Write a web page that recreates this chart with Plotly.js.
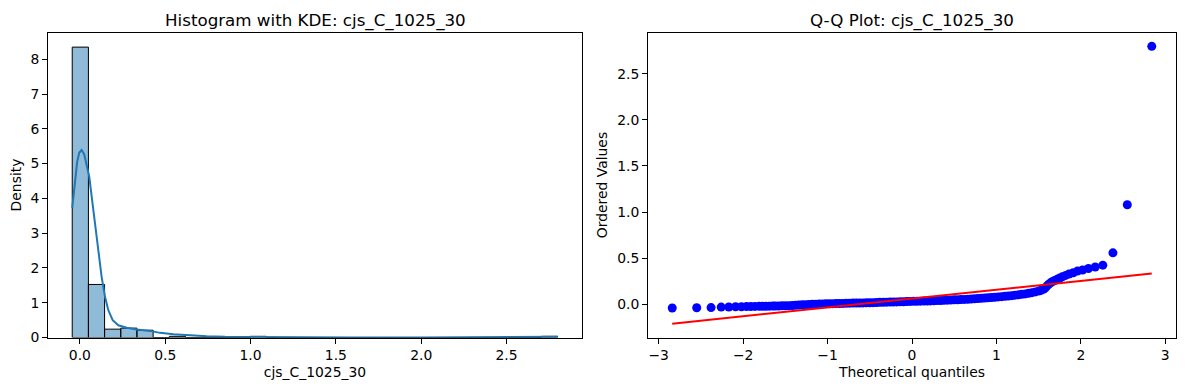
<!DOCTYPE html>
<html>
<head>
<meta charset="utf-8">
<script src="https://cdn.plot.ly/plotly-3.0.1.min.js"></script>
<style>
  html, body { margin: 0; padding: 0; background: #ffffff; }
  #chart { width: 1189px; height: 390px; }
</style>
</head>
<body>
<div id="chart"></div>
<script>
// ---------------- data ----------------
const variableName = "cjs_C_1025_30";

// Histogram (stat = density), 30 equal bins
const binStart = -0.045;
const binWidth = 0.0948;
const binDensity = [
  8.35, 1.525, 0.24, 0.27, 0.21, 0.0, 0.034, 0.0, 0.0, 0.0,
  0.0, 0.034, 0.0, 0.0, 0.0, 0.0, 0.0, 0.0, 0.0, 0.0,
  0.0, 0.0, 0.0, 0.0, 0.0, 0.0, 0.0, 0.0, 0.0, 0.034
];

// KDE curve
const kdeX = [-0.045, -0.029, -0.016, -0.004, 0.010, 0.025, 0.039, 0.055, 0.069, 0.084,
  0.098, 0.112, 0.127, 0.147, 0.166, 0.192, 0.225, 0.274, 0.333, 0.411,
  0.469, 0.548, 0.626, 0.743, 0.85, 0.94, 1.0, 1.07, 1.14, 1.22,
  1.35, 1.6, 2.0, 2.4, 2.6, 2.7, 2.76, 2.80];
const kdeY = [3.73, 4.48, 5.05, 5.31, 5.39, 5.27, 4.96, 4.62, 4.05, 3.47,
  2.90, 2.32, 1.75, 1.17, 0.79, 0.50, 0.35, 0.28, 0.23, 0.19,
  0.133, 0.095, 0.066, 0.037, 0.02, 0.016, 0.02, 0.024, 0.018, 0.006,
  0.001, 0.0, 0.0, 0.0, 0.002, 0.009, 0.016, 0.019];

// Q-Q plot points
const qqTheoretical = [
  -2.84, -2.55, -2.38, -2.26, -2.17, -2.09, -2.02, -1.96, -1.91, -1.86,
  -1.81, -1.77, -1.73, -1.69, -1.65, -1.62, -1.58, -1.54, -1.50, -1.46,
  -1.42, -1.38, -1.34, -1.30, -1.26, -1.22, -1.18, -1.14, -1.10, -1.06,
  -1.02, -0.98, -0.94, -0.90, -0.86, -0.82, -0.78, -0.74, -0.70, -0.66,
  -0.62, -0.58, -0.54, -0.50, -0.46, -0.42, -0.38, -0.34, -0.30, -0.26,
  -0.22, -0.18, -0.14, -0.10, -0.06, -0.02, 0.02, 0.06, 0.10, 0.14,
  0.18, 0.22, 0.26, 0.30, 0.34, 0.38, 0.42, 0.46, 0.50, 0.54,
  0.58, 0.62, 0.66, 0.70, 0.74, 0.78, 0.82, 0.86, 0.90, 0.94,
  0.98, 1.02, 1.06, 1.10, 1.14, 1.18, 1.22, 1.26, 1.30, 1.34,
  1.38, 1.42, 1.46, 1.50, 1.53, 1.56, 1.58, 1.60, 1.62, 1.64,
  1.66, 1.69, 1.72, 1.75, 1.78, 1.82, 1.86, 1.91, 1.96, 2.02,
  2.09, 2.17, 2.26, 2.38, 2.55, 2.84
];
const qqOrdered = [
  -0.040, -0.037, -0.036, -0.030, -0.029, -0.027, -0.026, -0.025, -0.024, -0.023,
  -0.022, -0.021, -0.021, -0.020, -0.019, -0.018, -0.018, -0.017, -0.016, -0.015,
  -0.013, -0.010, -0.008, -0.006, -0.004, -0.002, 0.000, 0.001, 0.002, 0.004,
  0.005, 0.006, 0.007, 0.008, 0.009, 0.010, 0.011, 0.012, 0.013, 0.013,
  0.014, 0.015, 0.016, 0.017, 0.018, 0.019, 0.021, 0.022, 0.023, 0.024,
  0.025, 0.026, 0.027, 0.028, 0.029, 0.031, 0.032, 0.033, 0.034, 0.035,
  0.036, 0.037, 0.038, 0.040, 0.041, 0.043, 0.045, 0.046, 0.048, 0.049,
  0.051, 0.053, 0.055, 0.057, 0.059, 0.062, 0.065, 0.068, 0.071, 0.074,
  0.077, 0.080, 0.083, 0.087, 0.090, 0.094, 0.098, 0.103, 0.108, 0.113,
  0.119, 0.126, 0.134, 0.143, 0.152, 0.165, 0.180, 0.200, 0.218, 0.232,
  0.245, 0.258, 0.272, 0.285, 0.298, 0.313, 0.328, 0.342, 0.360, 0.372,
  0.388, 0.405, 0.424, 0.558, 1.079, 2.797
];

// Least-squares fit line end points
const qqLineX = [-2.84, 2.84];
const qqLineY = [-0.210, 0.335];

// ---------------- build ----------------
const binCenters = binDensity.map((_, i) => binStart + binWidth * (i + 0.5));

const FONT = "DejaVu Sans, Liberation Sans, sans-serif";
const W = 1189, H = 390;
const px = v => v / W;
const py = v => 1 - v / H;

const traces = [
  {
    type: "bar", x: binCenters, y: binDensity, width: binWidth,
    marker: { color: "rgba(31,119,180,0.5)", line: { color: "#000000", width: 1 } },
    xaxis: "x", yaxis: "y", hoverinfo: "skip"
  },
  {
    type: "scatter", mode: "lines", x: kdeX, y: kdeY,
    line: { color: "#1f77b4", width: 2 },
    xaxis: "x", yaxis: "y", hoverinfo: "skip"
  },
  {
    type: "scatter", mode: "markers", x: qqTheoretical, y: qqOrdered,
    marker: { color: "#0000ff", size: 9, line: { width: 0 } },
    xaxis: "x2", yaxis: "y2", hoverinfo: "skip"
  },
  {
    type: "scatter", mode: "lines", x: qqLineX, y: qqLineY,
    line: { color: "#ff0000", width: 2 },
    xaxis: "x2", yaxis: "y2", hoverinfo: "skip"
  }
];

const axisCommon = {
  showgrid: false, zeroline: false,
  showline: true, mirror: true, linecolor: "#000000", linewidth: 1,
  ticks: "outside", ticklen: 5, tickwidth: 1, tickcolor: "#000000",
  tickfont: { family: FONT, size: 13.9, color: "#000000" },
  automargin: false, fixedrange: true
};
const titleFont = { family: FONT, size: 13.9, color: "#000000" };

const ax1L = 48, ax1R = 582, ax2L = 648, ax2R = 1176, axT = 32.5, axB = 337.5;

const layout = {
  width: W, height: H,
  margin: { l: 0, r: 0, t: 0, b: 0 },
  paper_bgcolor: "#ffffff", plot_bgcolor: "#ffffff",
  showlegend: false, bargap: 0,
  xaxis: Object.assign({}, axisCommon, {
    domain: [px(ax1L), px(ax1R)], anchor: "y",
    range: [-0.187, 2.942], tick0: 0, dtick: 0.5, tickformat: ".1f",
    title: { text: variableName, font: titleFont, standoff: 5 }
  }),
  yaxis: Object.assign({}, axisCommon, {
    domain: [py(axB), py(axT)], anchor: "x",
    range: [0, 8.77], tick0: 0, dtick: 1,
    title: { text: "Density", font: titleFont, standoff: 5 }
  }),
  xaxis2: Object.assign({}, axisCommon, {
    domain: [px(ax2L), px(ax2R)], anchor: "y2",
    range: [-3.127, 3.127], tick0: 0, dtick: 1,
    title: { text: "Theoretical quantiles", font: titleFont, standoff: 5 }
  }),
  yaxis2: Object.assign({}, axisCommon, {
    domain: [py(axB), py(axT)], anchor: "x2",
    range: [-0.360, 2.947], tick0: 0, dtick: 0.5, tickformat: ".1f",
    title: { text: "Ordered Values", font: titleFont, standoff: 6 }
  }),
  annotations: [
    {
      text: "Histogram with KDE: " + variableName,
      xref: "paper", yref: "paper", x: px((ax1L + ax1R) / 2), y: py(20),
      xanchor: "center", yanchor: "middle", showarrow: false,
      font: { family: FONT, size: 16.7, color: "#000000" }
    },
    {
      text: "Q-Q Plot: " + variableName,
      xref: "paper", yref: "paper", x: px((ax2L + ax2R) / 2), y: py(20),
      xanchor: "center", yanchor: "middle", showarrow: false,
      font: { family: FONT, size: 16.7, color: "#000000" }
    }
  ]
};

Plotly.newPlot("chart", traces, layout, { displayModeBar: false, staticPlot: true });
</script>
</body>
</html>
